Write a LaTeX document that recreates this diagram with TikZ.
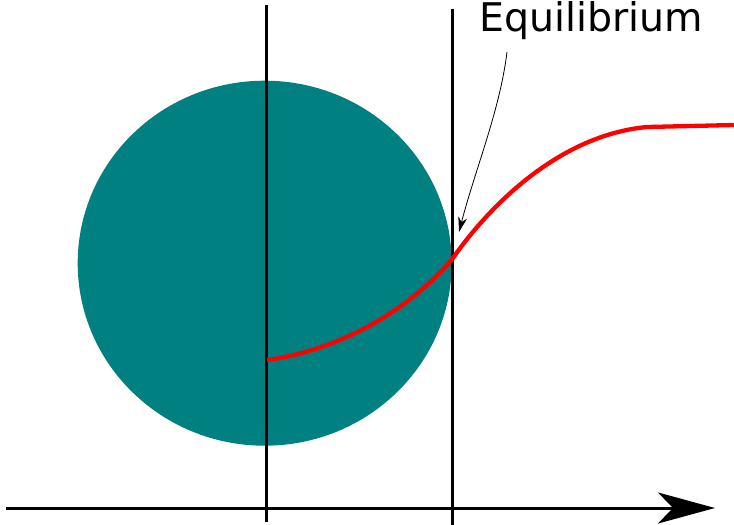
\documentclass[tikz,border=0pt]{standalone}
\usepackage{fontspec}
\setmainfont{DejaVu Sans}
\usetikzlibrary{arrows.meta}
\definecolor{tealfill}{HTML}{008080}
\definecolor{curvered}{HTML}{FF0000}
\tikzset{
  axisline/.style={line width=3pt,black},
  redcurve/.style={line width=4.3pt,curvered},
  pointer/.style={line width=0.8pt,black,-{Stealth[length=15pt,width=9pt]}},
  bigtip/.style={-{Stealth[length=57pt,width=31pt,inset=15pt]}}
}
\begin{document}
\begin{tikzpicture}[x=1pt,y=-1pt]
\useasboundingbox (0,0) rectangle (734,525);
% disc
\fill[tealfill] (264.7,263.2) ellipse [x radius=187, y radius=182.5];
% coordinates
\coordinate (v1t) at (266.7,5);
\coordinate (v1b) at (266.7,522);
\coordinate (v2t) at (452.7,9);
\coordinate (v2b) at (452.7,525);
\coordinate (hs) at (6,508);
\coordinate (he) at (715,508);
\coordinate (c0) at (267,360);
\coordinate (c1) at (453,258);
\coordinate (c2) at (647,127);
\coordinate (c3) at (734,125);
\coordinate (ps) at (507,52);
\coordinate (pe) at (459,232);
% lines
\draw[axisline] (v1t) -- (v1b);
\draw[axisline] (v2t) -- (v2b);
\draw[axisline,bigtip] (hs) -- (he);
% red curve
\draw[redcurve] (c0) .. controls (340,350) and (410,310) .. (c1)
  .. controls (490,205) and (560,135) .. (c2) -- (c3);
% label
\node[anchor=base west,inner sep=0pt,font=\fontsize{39.5}{42}\selectfont] (eq) at (479,31) {Equilibrium};
\draw[pointer] (ps) .. controls (500,110) and (475,170) .. (pe);
\end{tikzpicture}
\end{document}
